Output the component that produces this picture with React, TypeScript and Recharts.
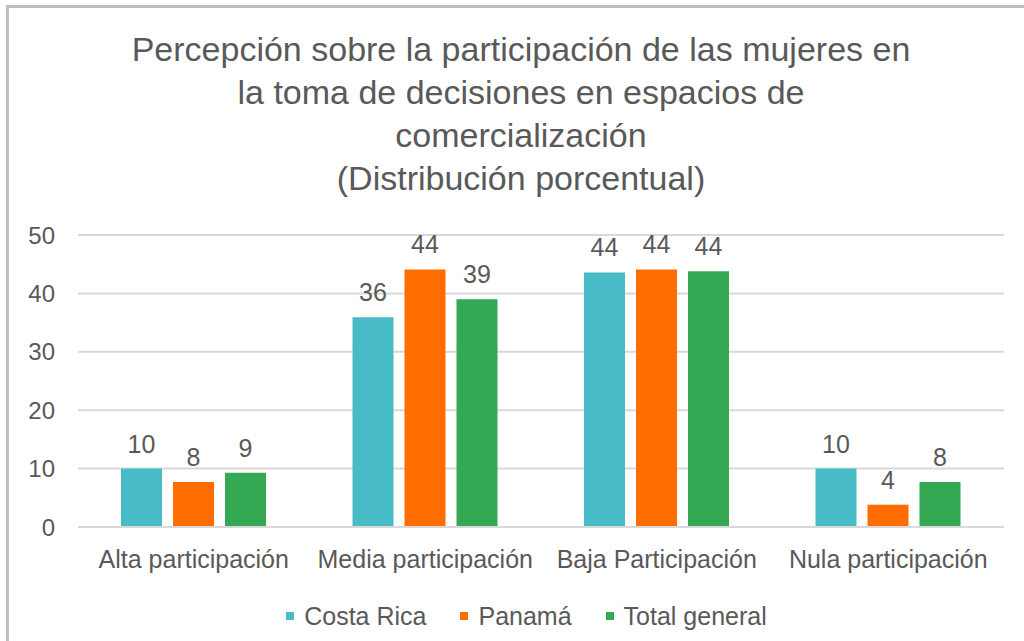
import React from "react";
import { BarChart, Bar, XAxis, YAxis, CartesianGrid, Legend, LabelList } from "recharts";

const categories = ["Alta participación", "Media participación", "Baja Participación", "Nula participación"];
const costaRica = [10.0, 35.9, 43.6, 10.0];
const panama = [7.7, 44.1, 44.1, 3.8];
const totalGeneral = [9.3, 39.0, 43.8, 7.7];
const yTicks = [0, 10, 20, 30, 40, 50];
const titleLines = [
  "Percepción sobre la participación de las mujeres en",
  "la toma de decisiones en espacios de",
  "comercialización",
  "(Distribución porcentual)",
];

const series = [
  { key: "costaRica", name: "Costa Rica", color: "#47BBC6" },
  { key: "panama", name: "Panamá", color: "#FF6D00" },
  { key: "totalGeneral", name: "Total general", color: "#35A853" },
];

const data = categories.map((c, i) => ({
  category: c,
  costaRica: costaRica[i],
  panama: panama[i],
  totalGeneral: totalGeneral[i],
}));

const FONT = "'Liberation Sans', Arial, sans-serif";
const TEXT = "#595959";

const LegendContent = () => (
  <div
    style={{
      height: 66,
      boxSizing: "border-box",
      paddingTop: 27,
      paddingLeft: 31,
      display: "flex",
      justifyContent: "center",
      alignItems: "flex-start",
      fontFamily: FONT,
      fontSize: 25,
      lineHeight: "28px",
      color: TEXT,
    }}
  >
    {series.map((s, i) => (
      <div key={s.key} style={{ display: "flex", alignItems: "center", marginRight: i < series.length - 1 ? 34 : 0 }}>
        <div style={{ width: 8, height: 8, background: s.color, marginRight: 10 }} />
        <span>{s.name}</span>
      </div>
    ))}
  </div>
);

export default function App() {
  return (
    <div style={{ position: "absolute", left: 0, top: 0, width: 1024, height: 641, background: "#fff", overflow: "hidden" }}>
      <div style={{ position: "absolute", left: 6, top: 5, width: 1040, height: 660, borderLeft: "3px solid #bfbfbf", borderTop: "3px solid #bfbfbf", boxSizing: "border-box" }} />
      <div style={{ position: "absolute", left: 0, top: 28, width: 1042, textAlign: "center", fontFamily: FONT, fontSize: 34, lineHeight: "43px", color: TEXT }}>
        {titleLines.map((l, i) => (
          <div key={i}>{l}</div>
        ))}
      </div>
      <div style={{ position: "absolute", left: 0, top: 0 }}>
        <BarChart
          width={1024}
          height={641}
          data={data}
          margin={{ top: 235, right: 20, left: 18, bottom: 0 }}
          barSize={41}
          barGap={11}
        >
          <CartesianGrid vertical={false} stroke="#d9d9d9" strokeWidth={2} />
          <XAxis
            dataKey="category"
            axisLine={{ stroke: "#d9d9d9", strokeWidth: 2 }}
            tickLine={false}
            tick={{ fill: TEXT, fontSize: 25, fontFamily: FONT }}
            tickMargin={17}
            interval={0}
            height={48}
          />
          <YAxis
            domain={[0, 50]}
            ticks={yTicks}
            axisLine={false}
            tickLine={false}
            width={60}
            tickSize={6}
            tickMargin={17}
            tick={{ fill: TEXT, fontSize: 24, fontFamily: FONT }}
          />
          <Legend verticalAlign="bottom" height={66} content={<LegendContent />} />
          {series.map((s) => (
            <Bar key={s.key} dataKey={s.key} name={s.name} fill={s.color} isAnimationActive={false}>
              <LabelList
                dataKey={s.key}
                position="top"
                offset={16}
                formatter={(v: number) => Math.round(v)}
                style={{ fill: TEXT, fontSize: 25, fontFamily: FONT }}
              />
            </Bar>
          ))}
        </BarChart>
      </div>
    </div>
  );
}
